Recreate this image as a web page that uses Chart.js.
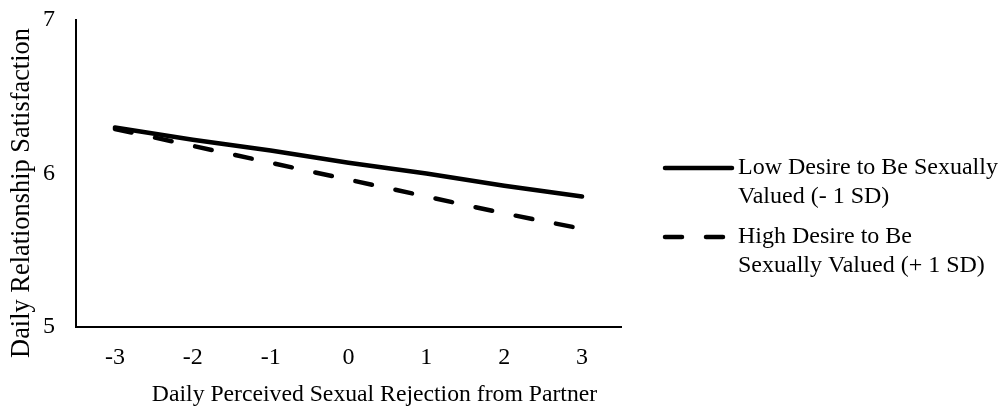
<!DOCTYPE html>
<html>
<head>
<meta charset="utf-8">
<script src="https://cdn.jsdelivr.net/npm/chart.js@4"></script>
<style>
  html, body { margin: 0; padding: 0; background: #fff; }
  #wrap { width: 1005px; height: 408px; }
</style>
</head>
<body>
<div id="wrap"><canvas id="c" width="1005" height="408"></canvas></div>
<script>
const categories = ['-3', '-2', '-1', '0', '1', '2', '3'];
const lowDesire = [6.30, 6.22, 6.15, 6.07, 6.00, 5.92, 5.85];
const highDesire = [6.29, 6.18, 6.07, 5.96, 5.85, 5.74, 5.64];
const lowLabel = ['Low Desire to Be Sexually', 'Valued (- 1 SD)'];
const highLabel = ['High Desire to Be', 'Sexually Valued (+ 1 SD)'];
const xTitle = 'Daily Perceived Sexual Rejection from Partner';
const yTitle = 'Daily Relationship Satisfaction';
const yMin = 5, yMax = 7, yStep = 1;

const FONT = "'Liberation Serif', 'Times New Roman', serif";

const legendPlugin = {
  id: 'sideLegend',
  afterDraw(chart) {
    const ctx = chart.ctx;
    const area = chart.chartArea;
    const x0 = area.right + 42;
    const x1 = x0 + 71;
    const tx = x1 + 4;
    const rows = [168, 237];
    const lh = 28.5;
    chart.data.datasets.forEach((ds, i) => {
      const y = rows[i];
      ctx.save();
      ctx.strokeStyle = ds.borderColor;
      ctx.lineWidth = ds.borderWidth;
      ctx.lineCap = 'round';
      ctx.setLineDash(ds.borderDash || []);
      ctx.beginPath();
      ctx.moveTo(x0 + 2, y);
      ctx.lineTo(x1 - 2, y);
      ctx.stroke();
      ctx.setLineDash([]);
      ctx.fillStyle = '#000';
      ctx.font = '24px ' + FONT;
      ctx.textBaseline = 'middle';
      ctx.textAlign = 'left';
      ds.legendLines.forEach((t, j) => ctx.fillText(t, tx, y + j * lh));
      ctx.restore();
    });
  }
};

const axisTitlePlugin = {
  id: 'axisTitles',
  afterDraw(chart) {
    const ctx = chart.ctx;
    const area = chart.chartArea;
    ctx.save();
    ctx.fillStyle = '#000';
    ctx.textAlign = 'center';
    ctx.textBaseline = 'alphabetic';
    ctx.font = '23.7px ' + FONT;
    ctx.fillText(xTitle, (area.left + area.right) / 2 + 26, 401);
    ctx.translate(29, (area.top + area.bottom) / 2 + 19.5);
    ctx.rotate(-Math.PI / 2);
    ctx.font = '26.4px ' + FONT;
    ctx.fillText(yTitle, 0, 0);
    ctx.restore();
  }
};

new Chart(document.getElementById('c'), {
  type: 'line',
  data: {
    labels: categories,
    datasets: [
      {
        label: lowLabel.join(' '),
        legendLines: lowLabel,
        data: lowDesire,
        borderColor: '#000',
        borderWidth: 4.5,
        borderCapStyle: 'round',
        pointRadius: 0,
        fill: false,
        tension: 0
      },
      {
        label: highLabel.join(' '),
        legendLines: highLabel,
        data: highDesire,
        borderColor: '#000',
        borderWidth: 4.5,
        borderDash: [17, 24],
        borderCapStyle: 'round',
        pointRadius: 0,
        fill: false,
        tension: 0
      }
    ]
  },
  options: {
    responsive: false,
    animation: false,
    devicePixelRatio: 1,
    layout: { padding: { left: 0, right: 384, top: 20, bottom: 0 } },
    plugins: { legend: { display: false }, tooltip: { enabled: false } },
    scales: {
      x: {
        offset: true,
        grid: { display: false, drawTicks: false },
        border: { display: true, color: '#000', width: 2 },
        ticks: { color: '#000', padding: 16, font: { family: FONT, size: 24 } },
        title: { display: false, text: xTitle },
        afterFit(scale) { scale.height = 81; scale.paddingLeft = 0; scale.paddingRight = 0; }
      },
      y: {
        min: yMin, max: yMax,
        grid: { display: false, drawTicks: false },
        border: { display: true, color: '#000', width: 2 },
        ticks: { stepSize: yStep, color: '#000', padding: 21, font: { family: FONT, size: 24 } },
        title: { display: false, text: yTitle },
        afterFit(scale) { scale.width = 76; scale.paddingTop = 0; scale.paddingBottom = 0; }
      }
    }
  },
  plugins: [legendPlugin, axisTitlePlugin]
});
</script>
</body>
</html>
